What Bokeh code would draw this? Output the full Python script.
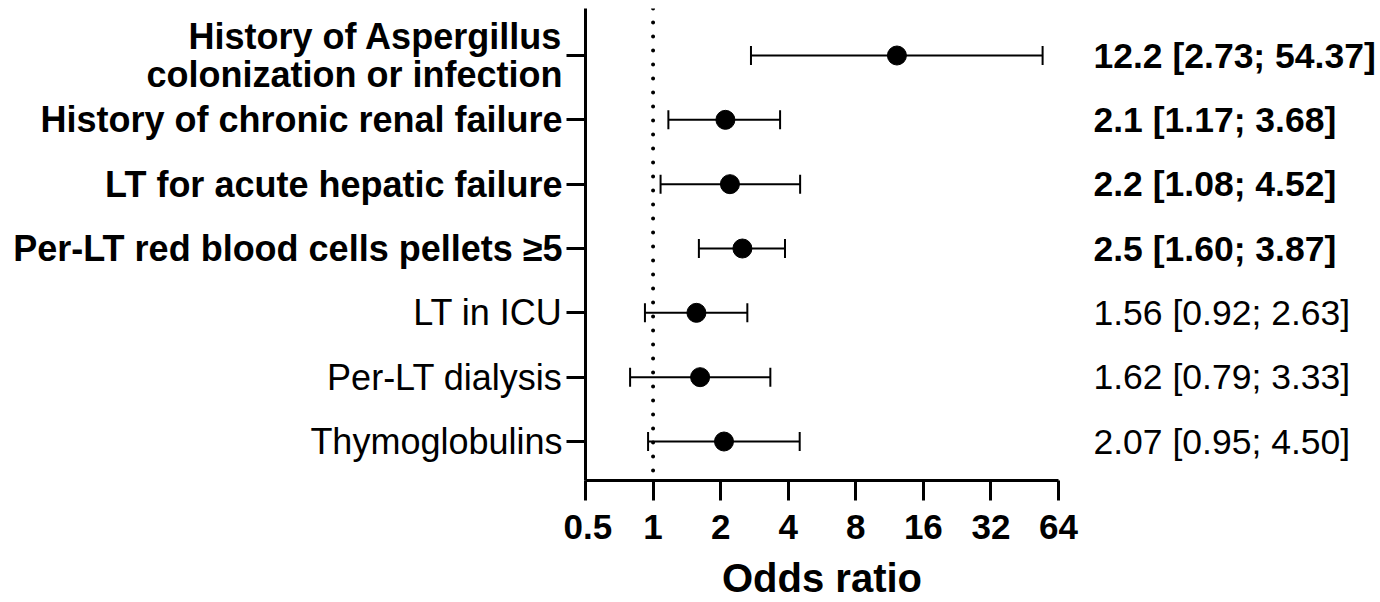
from bokeh.plotting import figure
from bokeh.layouts import row as bk_row
from bokeh.models import (Range1d, FixedTicker, NumeralTickFormatter, Span, Whisker,
                          TeeHead, ColumnDataSource)
from bokeh.core.properties import value
from bokeh.embed import file_html
from bokeh.resources import INLINE

# ---- data ----
labels = [
    "History of Aspergillus\ncolonization or infection",
    "History of chronic renal failure",
    "LT for acute hepatic failure",
    "Per-LT red blood cells pellets \u22655",
    "LT in ICU",
    "Per-LT dialysis",
    "Thymoglobulins",
]
odds_ratio = [12.2, 2.1, 2.2, 2.5, 1.56, 1.62, 2.07]
ci_lower = [2.73, 1.17, 1.08, 1.60, 0.92, 0.79, 0.95]
ci_upper = [54.37, 3.68, 4.52, 3.87, 2.63, 3.33, 4.50]
annotations = [
    "12.2 [2.73; 54.37]",
    "2.1 [1.17; 3.68]",
    "2.2 [1.08; 4.52]",
    "2.5 [1.60; 3.87]",
    "1.56 [0.92; 2.63]",
    "1.62 [0.79; 3.33]",
    "2.07 [0.95; 4.50]",
]
significant = [True, True, True, True, False, False, False]
x_ticks = [0.5, 1, 2, 4, 8, 16, 32, 64]

rows = list(range(1, len(labels) + 1))

# ---- layout constants ----
H = 602
TOP, BOTTOM = 8, 122
LEFT_W = 563          # label panel
AXIS_W = 22           # room for y-axis ticks in main figure
FRAME_W = 473
MAIN_RIGHT = 30
MAIN_W = AXIS_W + FRAME_W + MAIN_RIGHT
RIGHT_W = 1380 - LEFT_W - MAIN_W
LINE_H = 38
FONT = value("Liberation Sans")

y_range = Range1d(7.606, 0.2694)

src = ColumnDataSource(dict(row=rows, orv=odds_ratio, lower=ci_lower, upper=ci_upper))

# label sources (wrapped lines split)
def label_source(flag):
    r_, t_, dy_ = [], [], []
    for lab, rr, sig in zip(labels, rows, significant):
        if sig != flag:
            continue
        lines = lab.split("\n")
        n = len(lines)
        for k, line in enumerate(lines):
            r_.append(rr)
            t_.append(line)
            dy_.append((k - (n - 1) / 2) * LINE_H)
    return ColumnDataSource(dict(row=r_, text=t_, dy=dy_))

def ann_source(flag):
    return ColumnDataSource(dict(
        row=[rr for rr, s in zip(rows, significant) if s == flag],
        text=[a for a, s in zip(annotations, significant) if s == flag]))

def blank_fig(w):
    f = figure(width=w, height=H, x_range=Range1d(0, 1), y_range=y_range,
               x_axis_location=None, y_axis_location=None,
               output_backend="svg", toolbar_location=None,
               min_border_left=0, min_border_right=0,
               min_border_top=TOP, min_border_bottom=BOTTOM)
    f.outline_line_color = None
    f.xgrid.grid_line_color = None
    f.ygrid.grid_line_color = None
    f.background_fill_color = "white"
    f.border_fill_color = "white"
    return f

# ---- left label panel ----
left = blank_fig(LEFT_W)
for flag, style in ((True, "bold"), (False, "normal")):
    left.text(x=1, y="row", text="text", source=label_source(flag), x_offset=-1,
              y_offset="dy", text_align="right", text_baseline="middle",
              text_font=FONT, text_font_style=value(style), text_font_size="36px",
              text_color="black")

# ---- right annotation panel ----
right = blank_fig(RIGHT_W)
for flag, style in ((True, "bold"), (False, "normal")):
    right.text(x=0, y="row", text="text", source=ann_source(flag), x_offset=5,
               text_align="left", text_baseline="middle",
               text_font=FONT, text_font_style=value(style), text_font_size="35.5px",
               text_color="black")

# ---- main forest plot ----
p = figure(width=MAIN_W, height=H, x_axis_type="log",
           x_range=Range1d(x_ticks[0], x_ticks[-1]), y_range=y_range,
           output_backend="svg", toolbar_location=None,
           min_border_left=AXIS_W, min_border_right=MAIN_RIGHT,
           min_border_top=TOP, min_border_bottom=BOTTOM)
p.outline_line_color = None
p.xgrid.grid_line_color = None
p.ygrid.grid_line_color = None
p.background_fill_color = "white"
p.border_fill_color = "white"

p.add_layout(Span(location=1, dimension="height", line_color="black", line_width=4,
                  line_dash="0 14", line_cap="round"))

p.add_layout(Whisker(base="row", lower="lower", upper="upper", dimension="width", source=src,
                     line_color="black", line_width=2,
                     upper_head=TeeHead(size=19, line_width=2, line_color="black"),
                     lower_head=TeeHead(size=19, line_width=2, line_color="black")))
p.scatter(x="orv", y="row", source=src, size=19, color="black")

xa = p.xaxis[0]
xa.ticker = FixedTicker(ticks=x_ticks, minor_ticks=[])
xa.formatter = NumeralTickFormatter(format="0.[0]")
xa.axis_line_width = 3
xa.major_tick_line_width = 3
xa.major_tick_out = 20
xa.major_tick_in = 0
xa.minor_tick_line_color = None
xa.major_label_text_font = "Liberation Sans"
xa.major_label_text_font_style = "bold"
xa.major_label_text_font_size = "35px"
xa.major_label_text_color = "black"
xa.major_label_standoff = 14
xa.axis_label = "Odds ratio"
xa.axis_label_text_font = "Liberation Sans"
xa.axis_label_text_font_style = "bold"
xa.axis_label_text_font_size = "40px"
xa.axis_label_text_color = "black"
xa.axis_label_standoff = 14

ya = p.yaxis[0]
ya.ticker = FixedTicker(ticks=rows, minor_ticks=[])
ya.major_label_overrides = {r: "" for r in rows}
ya.major_label_standoff = 0
ya.axis_line_width = 3
ya.major_tick_line_width = 3
ya.major_tick_out = 19
ya.major_tick_in = 0
ya.minor_tick_line_color = None

layout = bk_row(left, p, right, spacing=0)
open("out.html", "w").write(file_html(layout, INLINE))
